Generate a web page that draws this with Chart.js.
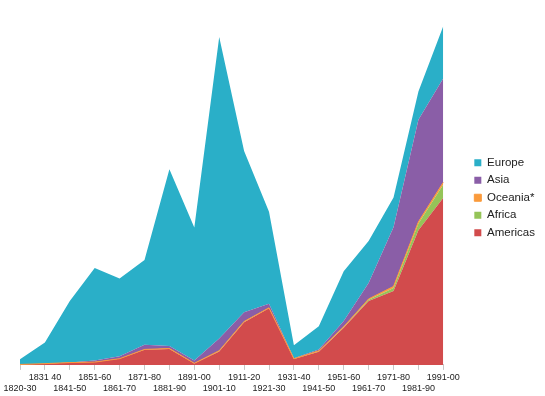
<!DOCTYPE html>
<html><head><meta charset="utf-8">
<script src="https://cdn.jsdelivr.net/npm/chart.js@4/dist/chart.umd.min.js"></script>
<style>html,body{margin:0;padding:0;background:#fff}</style>
</head><body>
<canvas id="c" width="545" height="396"></canvas>
<script>
// Immigration by region of last residence, thousands
const categories = ["1820-30","1831 40","1841-50","1851-60","1861-70","1871-80","1881-90","1891-00","1901-10","1911-20","1921-30","1931-40","1941-50","1951-60","1961-70","1971-80","1981-90","1991-00"];
const americas = [12.0, 33.4, 62.5, 74.7, 166.6, 404.0, 427.0, 39.0, 361.9, 1143.7, 1516.7, 160.0, 354.8, 996.9, 1716.4, 1982.7, 3615.2, 4486.8];
const africa   = [0.02, 0.05, 0.06, 0.2, 0.3, 0.4, 0.9, 0.4, 7.4, 8.4, 6.3, 1.8, 7.4, 14.1, 29.0, 80.8, 176.9, 354.9];
const oceania  = [0.003, 0.009, 0.03, 0.16, 0.21, 10.9, 12.6, 4.0, 13.0, 13.4, 8.7, 2.5, 14.6, 13.0, 25.1, 41.2, 45.2, 55.8];
const asia     = [0.03, 0.06, 0.14, 41.5, 64.8, 124.2, 69.9, 74.9, 323.5, 247.2, 112.1, 16.6, 37.0, 153.2, 427.6, 1588.2, 2738.2, 2795.7];
const europe   = [139.8, 565.6, 1650.6, 2481.6, 2082.9, 2272.7, 4736.2, 3569.3, 8089.6, 4323.1, 2463.4, 347.5, 621.2, 1338.3, 1123.6, 800.4, 762.6, 1402.2];

const FONT = "'Liberation Sans', Arial, Helvetica, sans-serif";
const seriesDefs = [
  {label: "Americas", data: americas, color: "#D24B4C", border: 0, fill: "origin"},
  {label: "Africa",   data: africa,   color: "#95C458", border: 0, fill: "-1"},
  {label: "Oceania*", data: oceania,  color: "#FA9A3B", border: 1, fill: "-1"},
  {label: "Asia",     data: asia,     color: "#8A5EA7", border: 0, fill: "-1"},
  {label: "Europe",   data: europe,   color: "#2AAFC8", border: 0, fill: "-1"}
];

new Chart(document.getElementById("c"), {
  type: "line",
  data: {
    labels: categories,
    datasets: seriesDefs.map(s => ({
      label: s.label, data: s.data, yAxisID: "y",
      backgroundColor: s.color, borderColor: s.color, borderWidth: s.border,
      fill: s.fill, pointRadius: 0, tension: 0
    }))
  },
  options: {
    responsive: false, animation: false,
    layout: {padding: {left: 20, right: 0, top: 0, bottom: 0.5}},
    scales: {
      x: {
        offset: false,
        grid: {drawOnChartArea: false, tickLength: 5, color: "#c8c8c8"},
        border: {color: "#c8c8c8"},
        ticks: {
          autoSkip: false, maxRotation: 0, minRotation: 0, padding: 2, color: "#222",
          font: {family: FONT, size: 9},
          callback: (v, i) => (i % 2 ? [categories[i], ""] : ["", categories[i]])
        }
      },
      y: {stacked: true, display: false, min: 0, max: 9790},
      gap: {position: "right", display: true, grid: {display: false}, ticks: {display: false}, border: {display: false}, afterFit: s => { s.width = 25; }}
    },
    plugins: {
      legend: {
        position: "right", reverse: true,
        labels: {boxWidth: 7, boxHeight: 7, padding: 6, color: "#222", font: {family: FONT, size: 11.5}}
      },
      tooltip: {enabled: false},
      filler: {drawTime: "beforeDatasetsDraw"}
    }
  }
});
</script>
</body></html>
